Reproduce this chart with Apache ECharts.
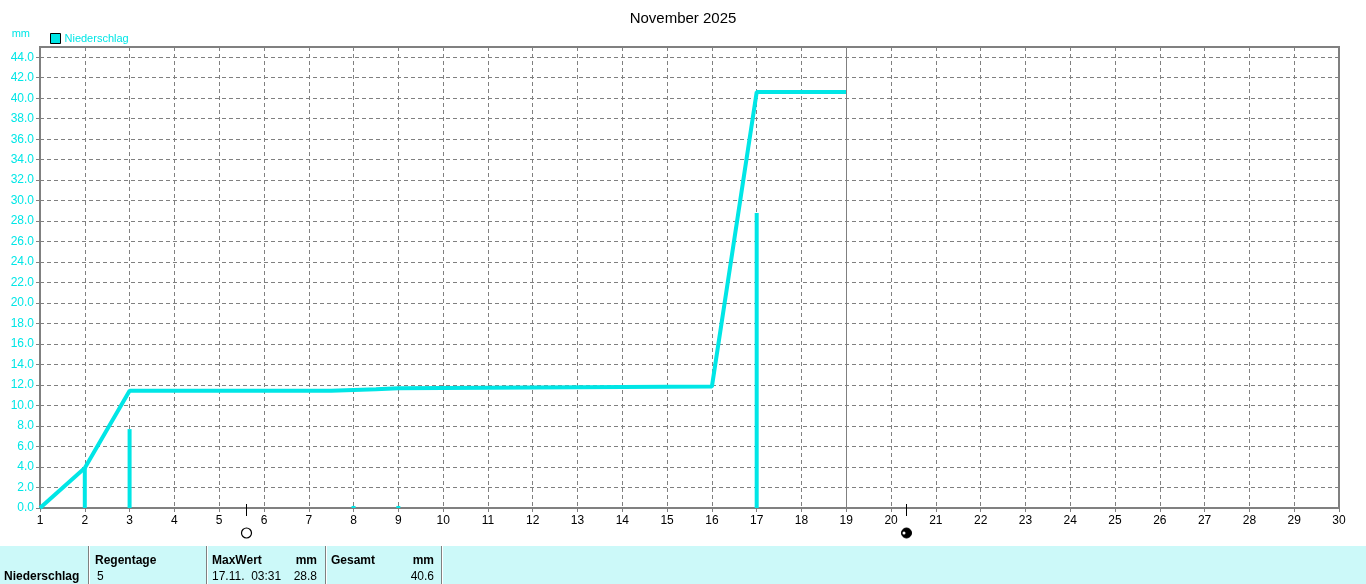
<!DOCTYPE html>
<html>
<head>
<meta charset="utf-8">
<script src="https://cdn.jsdelivr.net/npm/echarts@6/dist/echarts.min.js"></script>
<style>
html,body{margin:0;padding:0;background:#fff;}
#c{width:1366px;height:584px;}
</style>
</head>
<body>
<div id="c"></div>
<script>
// ---- data ----
const chartTitle = 'November 2025';
const seriesName = 'Niederschlag';
const unitLabel = 'mm';
const dayMin = 1, dayMax = 30;
// cumulative precipitation [day, mm]
const cumulative = [[1,0],[2,3.9],[3,11.45],[7.5,11.45],[7.5,11.6],[8.5,11.6],[8.5,11.7],[9,11.7],[9,11.85],[16,11.85],[17,40.6],[19,40.6]];
// daily precipitation [day, mm]
const daily = [[2,3.9],[3,7.7],[8,0.2],[9,0.2],[17,28.8]];
const todayMarker = 19;
// moon phases [day, type]
const moons = [[5.6,'full'],[20.33,'new']];
// summary table
const tableRowLabel = 'Niederschlag';
const tableHeaders = ['Regentage','MaxWert','mm','Gesamt','mm'];
const tableValues = ['5','17.11.  03:31','28.8','40.6'];

const CYAN = '#00E6E6';
const GRAY = '#808080';
const FONT = 'Liberation Sans, Arial, sans-serif';

const chart = echarts.init(document.getElementById('c'), null, {renderer:'canvas'});
const option = {
  animation:false,
  backgroundColor:'#fff',
  title:{text:chartTitle,left:'center',top:6,textStyle:{fontFamily:FONT,fontSize:15,fontWeight:'normal',color:'#000'}},
  legend:{data:[seriesName],left:50,top:33,padding:0,itemWidth:10,itemHeight:10,itemGap:4,icon:'rect',
    itemStyle:{color:CYAN,borderColor:'#000',borderWidth:1},
    textStyle:{color:CYAN,fontFamily:FONT,fontSize:11,padding:[0,0,0,-1]}},
  grid:{left:40,right:27,top:47,bottom:76,show:true,borderColor:GRAY,borderWidth:2,backgroundColor:'transparent'},
  xAxis:{type:'value',min:dayMin,max:dayMax,interval:1,
    axisLine:{show:true,onZero:false,lineStyle:{color:GRAY,width:2}},
    axisTick:{show:true,length:4,lineStyle:{color:GRAY}},
    axisLabel:{color:'#000',fontFamily:FONT,fontSize:12,margin:7},
    splitLine:{show:true,lineStyle:{color:GRAY,type:[4,3],width:1}}},
  yAxis:{type:'value',min:0,max:45,interval:2,name:unitLabel,nameLocation:'end',nameGap:8,
    nameTextStyle:{color:CYAN,fontFamily:FONT,fontSize:11,align:'right',padding:[0,10,0,0]},
    axisLine:{show:true,lineStyle:{color:GRAY,width:2}},
    axisTick:{show:true,length:4,lineStyle:{color:GRAY}},
    axisLabel:{color:CYAN,fontFamily:FONT,fontSize:12,margin:6,showMaxLabel:false,
      formatter:v=> (v%2===0? v.toFixed(1):'')},
    splitLine:{show:true,lineStyle:{color:GRAY,type:[4,3],width:1}}},
  series:[
    {name:seriesName,type:'bar',data:daily,barWidth:4,barMinHeight:2,itemStyle:{color:CYAN},z:3},
    {name:seriesName,type:'line',data:cumulative,symbol:'none',lineStyle:{color:CYAN,width:4},itemStyle:{color:CYAN},z:4,
      markLine:{silent:true,symbol:'none',label:{show:false},lineStyle:{color:GRAY,type:'solid',width:1},data:[{xAxis:todayMarker}]}}
  ]
};
chart.setOption(option);

// moon markers and table
const g = [];
moons.forEach(([d,t])=>{
  const p = chart.convertToPixel({gridIndex:0},[d,0]);
  const x = Math.round(p[0])+0.5, y = p[1];
  g.push({type:'line',shape:{x1:x,y1:y-4,x2:x,y2:y+8},style:{stroke:'#000',lineWidth:1},z:10});
  if(t==='full'){
    g.push({type:'circle',shape:{cx:x,cy:y+25,r:5},style:{fill:'#fff',stroke:'#000',lineWidth:1.2},z:10});
  } else {
    g.push({type:'circle',shape:{cx:x,cy:y+25,r:5},style:{fill:'#000',stroke:'#000',lineWidth:1},z:10});
    g.push({type:'circle',shape:{cx:x-2.5,cy:y+25,r:1.5},style:{fill:'#fff'},z:11});
  }
});
// table
const TY = 546;
g.push({type:'rect',shape:{x:0,y:TY,width:1366,height:38},style:{fill:'#CCF9F9'},z:1});
[88,206,325,441].forEach(x=>{
  g.push({type:'rect',shape:{x:x,y:TY,width:1,height:38},style:{fill:GRAY},z:2});
  g.push({type:'rect',shape:{x:x+1,y:TY,width:1,height:38},style:{fill:'#fff'},z:2});
});
const tf = (txt,x,y,bold,align)=>({type:'text',x:x,y:y,style:{text:txt,fill:'#000',font:(bold?'bold ':'')+'12px '+FONT,textAlign:align||'left',textVerticalAlign:'middle'},z:5});
g.push(tf(tableRowLabel,4,577,true));
g.push(tf(tableHeaders[0],95,561,true));
g.push(tf(tableHeaders[1],212,561,true));
g.push(tf(tableHeaders[2],317,561,true,'right'));
g.push(tf(tableHeaders[3],331,561,true));
g.push(tf(tableHeaders[4],434,561,true,'right'));
g.push(tf(tableValues[0],97,577,false));
g.push(tf(tableValues[1],212,577,false));
g.push(tf(tableValues[2],317,577,false,'right'));
g.push(tf(tableValues[3],434,577,false,'right'));
chart.setOption({graphic:g});
</script>
</body>
</html>
